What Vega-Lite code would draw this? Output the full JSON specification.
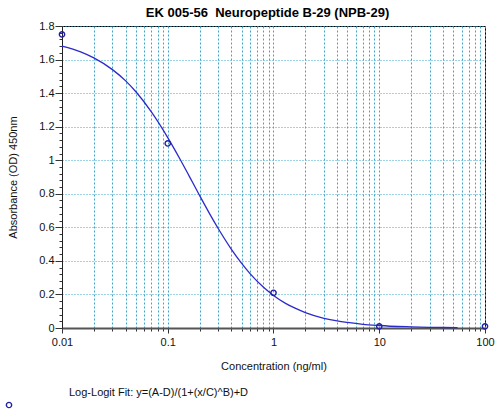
{
  "$schema": "https://vega.github.io/schema/vega-lite/v6.json",
  "width": 423,
  "height": 302,
  "autosize": {"type": "none"},
  "padding": {"left": 62, "top": 26, "right": 15, "bottom": 83},
  "background": "white",
  "config": {
    "font": "Liberation Sans",
    "view": {"stroke": "black", "strokeWidth": 1}
  },
  "title": {
    "text": "EK 005-56\u00a0 Neuropeptide B-29 (NPB-29)",
    "font": "Liberation Sans",
    "fontSize": 13,
    "fontWeight": "bold",
    "color": "black",
    "anchor": "middle",
    "dx": -6,
    "offset": 0
  },
  "datasets": {
    "curve": [
      {"conc": 0.01, "od": 1.68},
      {"conc": 0.015, "od": 1.646},
      {"conc": 0.02, "od": 1.61},
      {"conc": 0.03, "od": 1.54},
      {"conc": 0.04, "od": 1.473},
      {"conc": 0.05, "od": 1.408},
      {"conc": 0.07, "od": 1.288},
      {"conc": 0.1, "od": 1.135},
      {"conc": 0.13, "od": 1.009},
      {"conc": 0.16, "od": 0.904},
      {"conc": 0.2, "od": 0.79},
      {"conc": 0.25, "od": 0.679},
      {"conc": 0.3, "od": 0.593},
      {"conc": 0.4, "od": 0.469},
      {"conc": 0.5, "od": 0.385},
      {"conc": 0.6, "od": 0.324},
      {"conc": 0.8, "od": 0.244},
      {"conc": 1, "od": 0.194},
      {"conc": 1.3, "od": 0.147},
      {"conc": 1.6, "od": 0.118},
      {"conc": 2, "od": 0.092},
      {"conc": 3, "od": 0.058},
      {"conc": 4, "od": 0.042},
      {"conc": 5, "od": 0.033},
      {"conc": 7, "od": 0.022},
      {"conc": 10, "od": 0.015},
      {"conc": 15, "od": 0.009},
      {"conc": 20, "od": 0.007},
      {"conc": 30, "od": 0.004},
      {"conc": 40, "od": 0.003},
      {"conc": 55, "od": 0.002}
    ],
    "points": [
      {"conc": 0.01, "od": 1.75},
      {"conc": 0.1, "od": 1.1},
      {"conc": 1, "od": 0.21},
      {"conc": 10, "od": 0.01},
      {"conc": 100, "od": 0.01}
    ]
  },
  "encoding": {
    "x": {
      "field": "conc",
      "type": "quantitative",
      "scale": {"type": "log", "domain": [0.01, 100], "nice": false},
      "axis": {
        "values": [0.01, 0.02, 0.03, 0.04, 0.05, 0.06, 0.07, 0.08, 0.09, 0.1, 0.2, 0.3, 0.4, 0.5, 0.6, 0.7, 0.8, 0.9, 1, 2, 3, 4, 5, 6, 7, 8, 9, 10, 20, 30, 40, 50, 60, 70, 80, 90, 100],
        "format": "~g",
        "labelExpr": "abs(log(datum.value)/LN10 - round(log(datum.value)/LN10)) < 0.001 ? datum.label : ''",
        "labelFlush": false,
        "labelOverlap": false,
        "labelFont": "Liberation Sans",
        "labelFontSize": 11,
        "labelColor": "#111",
        "labelPadding": 3,
        "tickSize": {"condition": {"test": "abs(log(datum.value)/LN10 - round(log(datum.value)/LN10)) < 0.001", "value": 5}, "value": 3},
        "tickColor": "#333",
        "domainColor": "#555",
        "domainWidth": 2,
        "grid": true,
        "gridColor": "#3aa7c8",
        "gridDash": [2, 2],
        "gridWidth": 1,
        "title": "Concentration (ng/ml)",
        "titleFont": "Liberation Sans",
        "titleFontSize": 11,
        "titleFontWeight": "normal",
        "titleColor": "#111",
        "titlePadding": 13
      }
    },
    "y": {
      "field": "od",
      "type": "quantitative",
      "scale": {"domain": [0, 1.8], "nice": false},
      "axis": {
        "values": [0, 0.04, 0.08, 0.12, 0.16, 0.2, 0.24, 0.28, 0.32, 0.36, 0.4, 0.44, 0.48, 0.52, 0.56, 0.6, 0.64, 0.68, 0.72, 0.76, 0.8, 0.84, 0.88, 0.92, 0.96, 1, 1.04, 1.08, 1.12, 1.16, 1.2, 1.24, 1.28, 1.32, 1.36, 1.4, 1.44, 1.48, 1.52, 1.56, 1.6, 1.64, 1.68, 1.72, 1.76, 1.8],
        "format": "~g",
        "labelExpr": "abs(datum.value*5 - round(datum.value*5)) < 0.001 ? datum.label : ''",
        "labelOverlap": false,
        "labelFont": "Liberation Sans",
        "labelFontSize": 11,
        "labelColor": "#111",
        "labelPadding": 1,
        "tickSize": {"condition": {"test": "abs(datum.value*5 - round(datum.value*5)) < 0.001", "value": 7}, "value": 3},
        "tickColor": "#333",
        "domainColor": "#222",
        "grid": true,
        "gridColor": "#3aa7c8",
        "gridDash": [1, 2],
        "gridOpacity": {"condition": {"test": "abs(datum.value*5 - round(datum.value*5)) < 0.001", "value": 1}, "value": 0},
        "title": "Absorbance (OD) 450nm",
        "titleFont": "Liberation Sans",
        "titleFontSize": 11,
        "titleFontWeight": "normal",
        "titleColor": "#111",
        "titlePadding": 20
      }
    }
  },
  "layer": [
    {
      "data": {"name": "curve"},
      "mark": {"type": "line", "strokeWidth": 1.3, "interpolate": "monotone"},
      "encoding": {
        "stroke": {
          "datum": "Log-Logit Fit: y=(A-D)/(1+(x/C)^B)+D",
          "scale": {"range": ["#2b2bcc"]},
          "legend": {
            "orient": "none",
            "legendX": -4,
            "legendY": 361,
            "title": null,
            "symbolSize": 0,
            "symbolStrokeWidth": 0,
            "symbolOpacity": 0,
            "labelOffset": 0,
            "padding": 0,
            "labelFont": "Liberation Sans",
            "labelFontSize": 11,
            "labelColor": "#111",
            "labelLimit": 0
          }
        }
      }
    },
    {
      "data": {"name": "points"},
      "mark": {"type": "point", "filled": false, "size": 28, "strokeWidth": 1.4, "color": "#1f1fa6", "opacity": 1},
      "encoding": {
        "shape": {
          "datum": "standards",
          "scale": {"range": ["circle"]},
          "legend": {
            "orient": "none",
            "legendX": -58,
            "legendY": 374,
            "title": null,
            "labelExpr": "''",
            "symbolStrokeColor": "#1f1fa6",
            "symbolFillColor": "white",
            "symbolSize": 28,
            "symbolStrokeWidth": 1.4,
            "padding": 0
          }
        }
      }
    }
  ]
}
